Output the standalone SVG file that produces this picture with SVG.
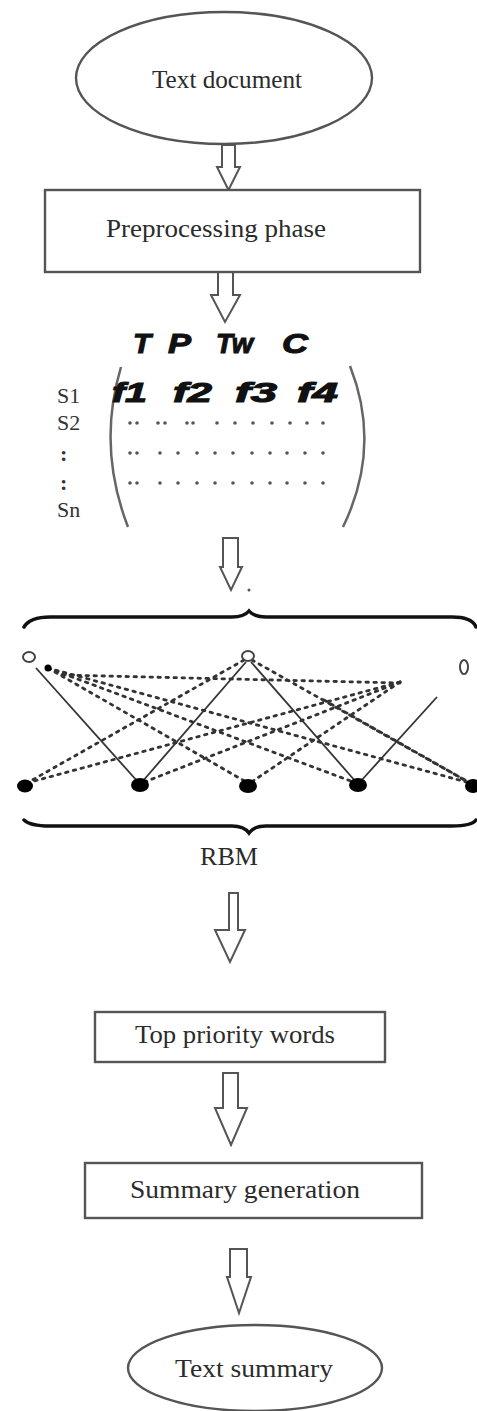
<svg xmlns="http://www.w3.org/2000/svg" width="477" height="1411" viewBox="0 0 477 1411">
<style>
.shape{fill:#fff;stroke:#555;stroke-width:2.4}
.lbl{font-family:"Liberation Serif",serif;font-size:25px;fill:#2b2b2b;text-anchor:middle}
.arrow{fill:#fff;stroke:#555;stroke-width:2;stroke-linejoin:miter}
.feat{font-family:"Liberation Sans",Arial,sans-serif;font-weight:bold;font-style:italic;fill:#111;stroke:#111;stroke-width:1.1}
.srow{font-family:"Liberation Serif",serif;font-size:22px;fill:#333}
.dots{stroke:#555;stroke-width:3.6;stroke-linecap:round;fill:none}
.paren{fill:none;stroke:#666;stroke-width:2.5}
.brace{fill:none;stroke:#111;stroke-width:3.5;stroke-linecap:round}
.solid{stroke:#333;stroke-width:1.8;fill:none}
.dash{stroke:#333;stroke-width:2.8;stroke-dasharray:2.5 5.5;stroke-linecap:round;fill:none}
.hid{fill:#fff;stroke:#444;stroke-width:2}
.vis{fill:#000}
</style>
<rect width="477" height="1411" fill="#fff"/>

<g id="connectors">
<path class="arrow" d="M222,145 L235,145 L235,167 L240,167 L228.5,190 L217,167 L222,167 Z"/>
<path class="arrow" d="M218,272 L233,272 L233,295 L240,295 L225,322 L211,295 L218,295 Z"/>
<path class="arrow" d="M223,538 L238,538 L238,567 L242,567 L231,590 L220,567 L223,567 Z"/>
<path class="arrow" d="M229,893 L238,893 L238,930 L245,930 L230,962 L215,930 L229,930 Z"/>
<path class="arrow" d="M223,1073 L238,1073 L238,1108 L247,1108 L231,1145 L215,1108 L223,1108 Z"/>
<path class="arrow" d="M230,1249 L247,1249 L247,1277 L251,1277 L239,1313 L227,1277 L230,1277 Z"/>
</g>

<g id="node-text-document">
<ellipse class="shape" cx="224" cy="78" rx="148" ry="66"/>
<text class="lbl" x="227" y="88" textLength="150" lengthAdjust="spacingAndGlyphs">Text document</text>
</g>

<g id="node-preprocessing">
<rect class="shape" x="45" y="190" width="375" height="82"/>
<text class="lbl" x="216" y="237" textLength="220" lengthAdjust="spacingAndGlyphs">Preprocessing phase</text>
</g>

<g id="node-feature-matrix">
<text class="feat" font-size="28" x="133" y="353" textLength="18" lengthAdjust="spacingAndGlyphs">T</text>
<text class="feat" font-size="28" x="168" y="353" textLength="23" lengthAdjust="spacingAndGlyphs">P</text>
<text class="feat" font-size="28" x="216" y="353" textLength="37" lengthAdjust="spacingAndGlyphs">Tw</text>
<text class="feat" font-size="28" x="282" y="353" textLength="26" lengthAdjust="spacingAndGlyphs">C</text>
<text class="srow" x="57" y="403">S1</text>
<text class="srow" x="57" y="430">S2</text>
<text class="srow" x="60" y="461" font-weight="bold">:</text>
<text class="srow" x="60" y="490" font-weight="bold">:</text>
<text class="srow" x="57" y="517">Sn</text>
<path class="paren" d="M121,367 Q97,447 128,527"/>
<path class="paren" d="M350,366 Q382,447 343,527"/>
<text class="feat" font-size="27" x="112" y="402" textLength="35" lengthAdjust="spacingAndGlyphs">f1</text>
<text class="feat" font-size="27" x="173" y="402" textLength="39" lengthAdjust="spacingAndGlyphs">f2</text>
<text class="feat" font-size="27" x="235" y="402" textLength="42" lengthAdjust="spacingAndGlyphs">f3</text>
<text class="feat" font-size="27" x="297" y="402" textLength="41" lengthAdjust="spacingAndGlyphs">f4</text>
<path class="dots" d="M130,423h0M137,423h0M158,423h0M165,423h0M187,423h0M193,423h0M217,423h0M235,423h0M253,423h0M272,423h0M290,423h0M307,423h0M323,423h0"/>
<path class="dots" d="M130,453h0M137,453h0M160,453h0M178,453h0M197,453h0M215,453h0M233,453h0M252,453h0M270,453h0M287,453h0M305,453h0M323,453h0"/>
<path class="dots" d="M130,483h0M137,483h0M160,483h0M178,483h0M197,483h0M215,483h0M233,483h0M252,483h0M270,483h0M287,483h0M305,483h0M323,483h0"/>
</g>

<g id="node-rbm">
<circle cx="249" cy="590" r="1.5" fill="#555"/>
<path class="brace" d="M24,627 Q30,617 50,617 L232,617 Q244,617 249,611 Q254,617 266,617 L452,617 Q472,617 476,627"/>
<path class="brace" d="M24,820 Q30,826 50,826 L232,826 Q244,826 249,833 Q254,826 266,826 L452,826 Q472,826 476,820"/>
<line class="solid" x1="36" y1="668" x2="138" y2="782"/>
<line class="solid" x1="246" y1="662" x2="142" y2="782"/>
<line class="solid" x1="251" y1="662" x2="356" y2="782"/>
<line class="solid" x1="437" y1="697" x2="360" y2="782"/>
<line class="dash" x1="48" y1="668" x2="248" y2="783"/>
<line class="dash" x1="48" y1="668" x2="356" y2="783"/>
<line class="dash" x1="48" y1="668" x2="470" y2="783"/>
<line class="dash" x1="62" y1="675" x2="400" y2="683"/>
<line class="dash" x1="244" y1="660" x2="27" y2="783"/>
<line class="dash" x1="252" y1="660" x2="470" y2="783"/>
<line class="dash" x1="400" y1="682" x2="27" y2="783"/>
<line class="dash" x1="400" y1="682" x2="142" y2="783"/>
<line class="dash" x1="400" y1="682" x2="250" y2="783"/>
<line class="dash" x1="324" y1="700" x2="470" y2="783"/>
<ellipse class="hid" cx="29" cy="657" rx="6" ry="5"/>
<circle class="vis" cx="48" cy="668" r="3.5"/>
<ellipse class="hid" cx="248" cy="656" rx="6" ry="5"/>
<ellipse class="hid" cx="464" cy="667" rx="4" ry="7"/>
<ellipse class="vis" cx="25" cy="786" rx="8" ry="6.5"/>
<ellipse class="vis" cx="140" cy="785" rx="9" ry="7"/>
<ellipse class="vis" cx="248" cy="786" rx="9" ry="7"/>
<ellipse class="vis" cx="358" cy="785" rx="9" ry="7"/>
<ellipse class="vis" cx="473" cy="786" rx="8" ry="7"/>
<text class="lbl" x="229" y="865" font-size="24" textLength="58" lengthAdjust="spacingAndGlyphs">RBM</text>
</g>

<g id="node-top-priority">
<rect class="shape" x="95" y="1012" width="290" height="50"/>
<text class="lbl" x="235" y="1043" textLength="200" lengthAdjust="spacingAndGlyphs">Top priority words</text>
</g>

<g id="node-summary-generation">
<rect class="shape" x="85" y="1163" width="337" height="55"/>
<text class="lbl" x="245" y="1198" textLength="230" lengthAdjust="spacingAndGlyphs">Summary generation</text>
</g>

<g id="node-text-summary">
<ellipse class="shape" cx="255" cy="1368" rx="127" ry="43"/>
<text class="lbl" x="254" y="1377" textLength="158" lengthAdjust="spacingAndGlyphs">Text summary</text>
</g>
</svg>
